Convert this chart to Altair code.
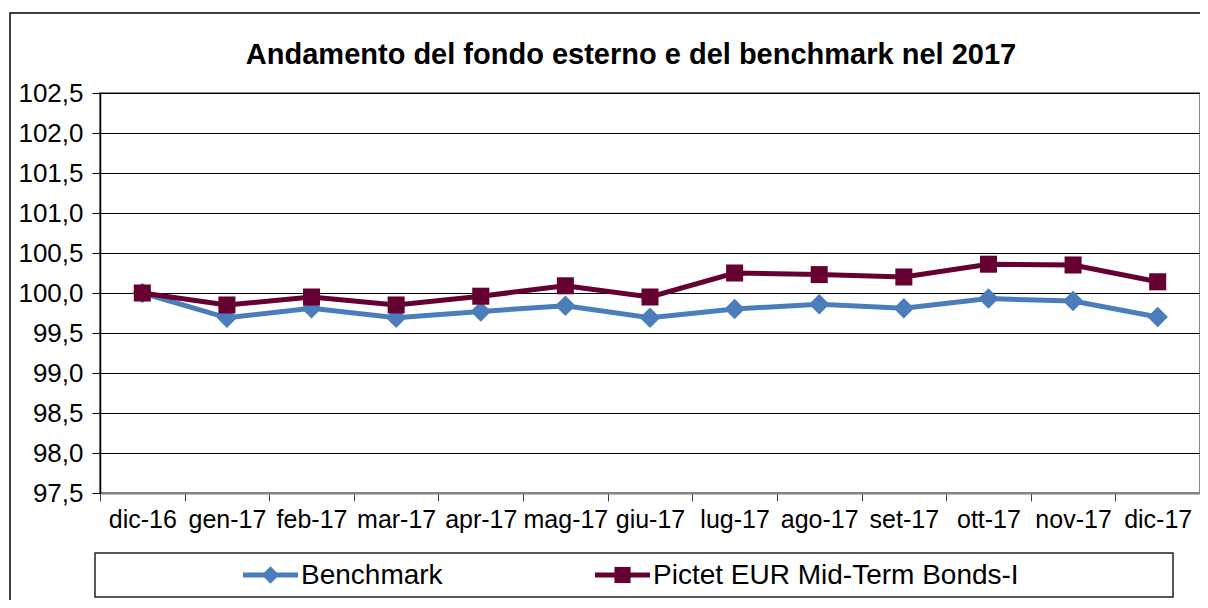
import altair as alt
import pandas as pd

months = ["dic-16", "gen-17", "feb-17", "mar-17", "apr-17", "mag-17", "giu-17",
          "lug-17", "ago-17", "set-17", "ott-17", "nov-17", "dic-17"]
benchmark = [100.00, 99.69, 99.81, 99.69, 99.77, 99.84, 99.69,
             99.80, 99.86, 99.81, 99.93, 99.90, 99.70]
pictet = [100.00, 99.85, 99.95, 99.85, 99.96, 100.09, 99.95,
          100.25, 100.23, 100.20, 100.36, 100.35, 100.14]
series_names = ["Benchmark", "Pictet EUR Mid-Term Bonds-I"]
series_colors = ["#4A7EBB", "#660033"]
series_shapes = ["diamond", "square"]
y_ticks = [97.5, 98.0, 98.5, 99.0, 99.5, 100.0, 100.5, 101.0, 101.5, 102.0, 102.5]
title_text = "Andamento del fondo esterno e del benchmark nel 2017"

rows = []
for m, b, p in zip(months, benchmark, pictet):
    rows.append({"mese": m, "serie": series_names[0], "valore": b})
    rows.append({"mese": m, "serie": series_names[1], "valore": p})
df = pd.DataFrame(rows)

FONT = "Liberation Sans"
W, H = 1100, 400

x_enc = alt.X("mese:N", sort=months,
              scale=alt.Scale(type="band", domain=months, paddingInner=0, paddingOuter=0),
              axis=alt.Axis(title=None, labelAngle=0, tickBand="extent", grid=False,
                            domainColor="#808080", domainWidth=2, tickColor="#404040",
                            tickSize=8, labelPadding=6, labelFontSize=25, labelColor="#000"))
y_enc = alt.Y("valore:Q",
              scale=alt.Scale(domain=[97.5, 102.5], nice=False, zero=False),
              axis=alt.Axis(title=None, values=y_ticks,
                            labelExpr="replace(format(datum.value, '.1f'), '.', ',')",
                            grid=True, gridColor="#000", gridWidth=1,
                            domainColor="#000", domainWidth=1.5, tickColor="#000",
                            tickSize=8, labelPadding=9, labelFontSize=26, labelColor="#000"))
color_scale = alt.Scale(domain=series_names, range=series_colors)

base = alt.Chart(df)

def line_layer(name):
    return base.transform_filter(alt.datum.serie == name).mark_line(strokeWidth=5).encode(
        x=x_enc, y=y_enc, color=alt.Color("serie:N", scale=color_scale, legend=None))

def point_layer(name, shape, size):
    return base.transform_filter(alt.datum.serie == name).mark_point(
        shape=shape, filled=True, size=size, opacity=1).encode(
        x=x_enc, y=y_enc, color=alt.Color("serie:N", scale=color_scale, legend=None))

dummy = alt.Chart(pd.DataFrame({"d": [0]}))

# chart frame and legend box (decoration)
outer_frame = dummy.mark_rect(filled=False, stroke="#000", strokeWidth=1.5).encode(
    x=alt.value(-90), x2=alt.value(1130), y=alt.value(-80), y2=alt.value(620))
legend_box = dummy.mark_rect(filled=False, stroke="#202020", strokeWidth=1.5).encode(
    x=alt.value(-5), x2=alt.value(1073), y=alt.value(460), y2=alt.value(504))

# legend entries: line sample + marker + label
LEG_Y = 482
legend_starts = [143, 495]
legend_marker_sizes = [300, 260]
legend_layers = []
for name, col, shp, x0, msz in zip(series_names, series_colors, series_shapes,
                                   legend_starts, legend_marker_sizes):
    legend_layers.append(dummy.mark_rule(strokeWidth=5, color=col).encode(
        x=alt.value(x0), x2=alt.value(x0 + 55), y=alt.value(LEG_Y)))
    legend_layers.append(dummy.mark_point(shape=shp, filled=True, size=msz, opacity=1,
                                          color=col).encode(
        x=alt.value(x0 + 27.5), y=alt.value(LEG_Y)))
    legend_layers.append(dummy.mark_text(align="left", baseline="middle", fontSize=28,
                                         font=FONT, color="#000").encode(
        x=alt.value(x0 + 58), y=alt.value(LEG_Y + 1), text=alt.value(name)))

chart = alt.layer(
    outer_frame, legend_box,
    line_layer(series_names[0]), point_layer(series_names[0], "diamond", 420),
    line_layer(series_names[1]), point_layer(series_names[1], "square", 290),
    *legend_layers,
).properties(
    width=W, height=H,
    title=alt.TitleParams(title_text, anchor="middle", dx=-19, offset=-58,
                          fontSize=29, font=FONT, fontWeight="bold", color="#000"),
    padding={"left": 92, "top": 85, "right": 0, "bottom": 107},
    autosize=alt.AutoSizeParams(type="none"),
).configure(font=FONT).configure_view(
    stroke="#888", strokeWidth=2
).configure_axis(labelFont=FONT)

chart.save("out.html", embed_options={"renderer": "svg", "actions": False})
